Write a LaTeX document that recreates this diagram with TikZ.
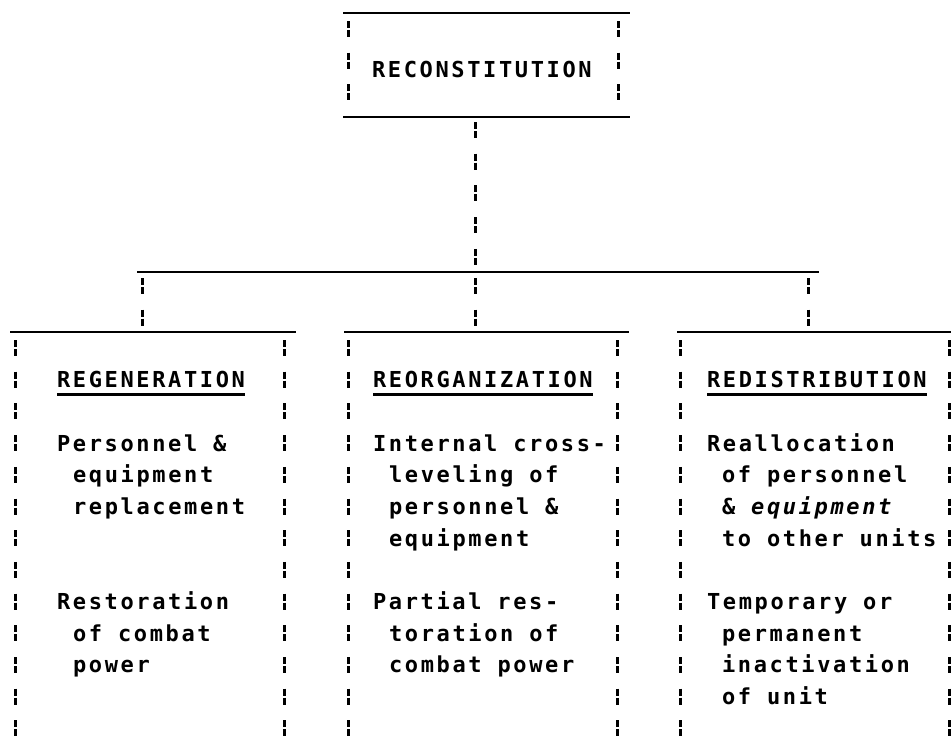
\documentclass[tikz,border=0pt]{standalone}
\usepackage{fontspec}
\newfontfamily\tw[LetterSpace=12]{DejaVu Sans Mono}
\usetikzlibrary{calc}
\begin{document}
\begin{tikzpicture}[x=1pt,y=-1pt,
  hline/.style={line width=2.8pt},
  vline/.style={line width=3pt, dash pattern=on 7pt off 2pt on 7pt off 15.7pt},
  box/.style={rectangle, inner sep=0pt, outer sep=0pt, draw=none},
  txt/.style={inner sep=0pt, outer sep=0pt, anchor=base west, font=\tw\bfseries\fontsize{22}{26}\selectfont},
  ul/.style={line width=2.2pt}]
\useasboundingbox (0,0) rectangle (951,745);
% boxes
\node[box, minimum width=287pt, minimum height=104pt] (top) at (486.5,65) {};
\node[box, minimum width=286pt, minimum height=413pt] (b1) at (153,538.5) {};
\node[box, minimum width=285pt, minimum height=413pt] (b2) at (486.5,538.5) {};
\node[box, minimum width=274pt, minimum height=413pt] (b3) at (814,538.5) {};
% top box
\draw[hline] (top.north west) -- (top.north east);
\draw[hline] (top.south west) -- (top.south east);
\draw[vline] ($(top.north west)+(5,8)$) -- ($(top.south west)+(5,-6)$);
\draw[vline] ($(top.north east)+(-12,8)$) -- ($(top.south east)+(-12,-6)$);
\node[txt] (t0) at (372,77) {RECONSTITUTION};
% bus
\coordinate (busL) at (137,272);
\coordinate (busR) at (819,272);
\coordinate (d1) at (142,272);
\coordinate (d2) at (475,272);
\coordinate (d3) at (808,272);
\draw[hline] (busL) -- (busR);
\draw[vline] ($(top.south -| d2)+(0,5)$) -- (d2);
\draw[vline] ($(d1)+(0,6)$) -- (d1 |- b1.north);
\draw[vline] ($(d2)+(0,6)$) -- (d2 |- b2.north);
\draw[vline] ($(d3)+(0,6)$) -- (d3 |- b3.north);
% lower boxes
\draw[hline] (b1.north west) -- (b1.north east);
\draw[hline] (b2.north west) -- (b2.north east);
\draw[hline] (b3.north west) -- (b3.north east);
\draw[vline] ($(b1.north west)+(5,8)$) -- ($(b1.south west)+(5,0)$);
\draw[vline] ($(b1.north east)+(-12,8)$) -- ($(b1.south east)+(-12,0)$);
\draw[vline] ($(b2.north west)+(4,8)$) -- ($(b2.south west)+(4,0)$);
\draw[vline] ($(b2.north east)+(-12,8)$) -- ($(b2.south east)+(-12,0)$);
\draw[vline] ($(b3.north west)+(3,8)$) -- ($(b3.south west)+(3,0)$);
\draw[vline] ($(b3.north east)+(-2,8)$) -- ($(b3.south east)+(-2,0)$);
% box 1 text
\node[txt] (h1) at (57,387.5) {REGENERATION};
\node[txt] (a1) at (57,451) {Personnel \&};
\node[txt] (a2) at (73,482.7) {equipment};
\node[txt] (a3) at (73,514.4) {replacement};
\node[txt] (a4) at (57,609.5) {Restoration};
\node[txt] (a5) at (73,641.2) {of combat};
\node[txt] (a6) at (73,672.9) {power};
% box 2 text
\node[txt] (h2) at (373,387.5) {REORGANIZATION};
\node[txt] (c1) at (373,451) {Internal cross-};
\node[txt] (c2) at (389,482.7) {leveling of};
\node[txt] (c3) at (389,514.4) {personnel \&};
\node[txt] (c4) at (389,546.1) {equipment};
\node[txt] (c5) at (373,609.5) {Partial res-};
\node[txt] (c6) at (389,641.2) {toration of};
\node[txt] (c7) at (389,672.9) {combat power};
% box 3 text
\node[txt] (h3) at (707,387.5) {REDISTRIBUTION};
\node[txt] (e1) at (707,451) {Reallocation};
\node[txt] (e2) at (722,482.7) {of personnel};
\node[txt] (e3) at (722,514.4) {\& {\itshape equipment}};
\node[txt] (e4) at (722,546.1) {to other units};
\node[txt] (e5) at (707,609.5) {Temporary or};
\node[txt] (e6) at (722,641.2) {permanent};
\node[txt] (e7) at (722,672.9) {inactivation};
\node[txt] (e8) at (722,704.6) {of unit};
% underlines
\draw[ul] ($(h1.base west)+(0,7)$) -- ($(h1.base east)+(0,7)$);
\draw[ul] ($(h2.base west)+(0,7)$) -- ($(h2.base east)+(0,7)$);
\draw[ul] ($(h3.base west)+(0,7)$) -- ($(h3.base east)+(0,7)$);
\end{tikzpicture}
\end{document}
